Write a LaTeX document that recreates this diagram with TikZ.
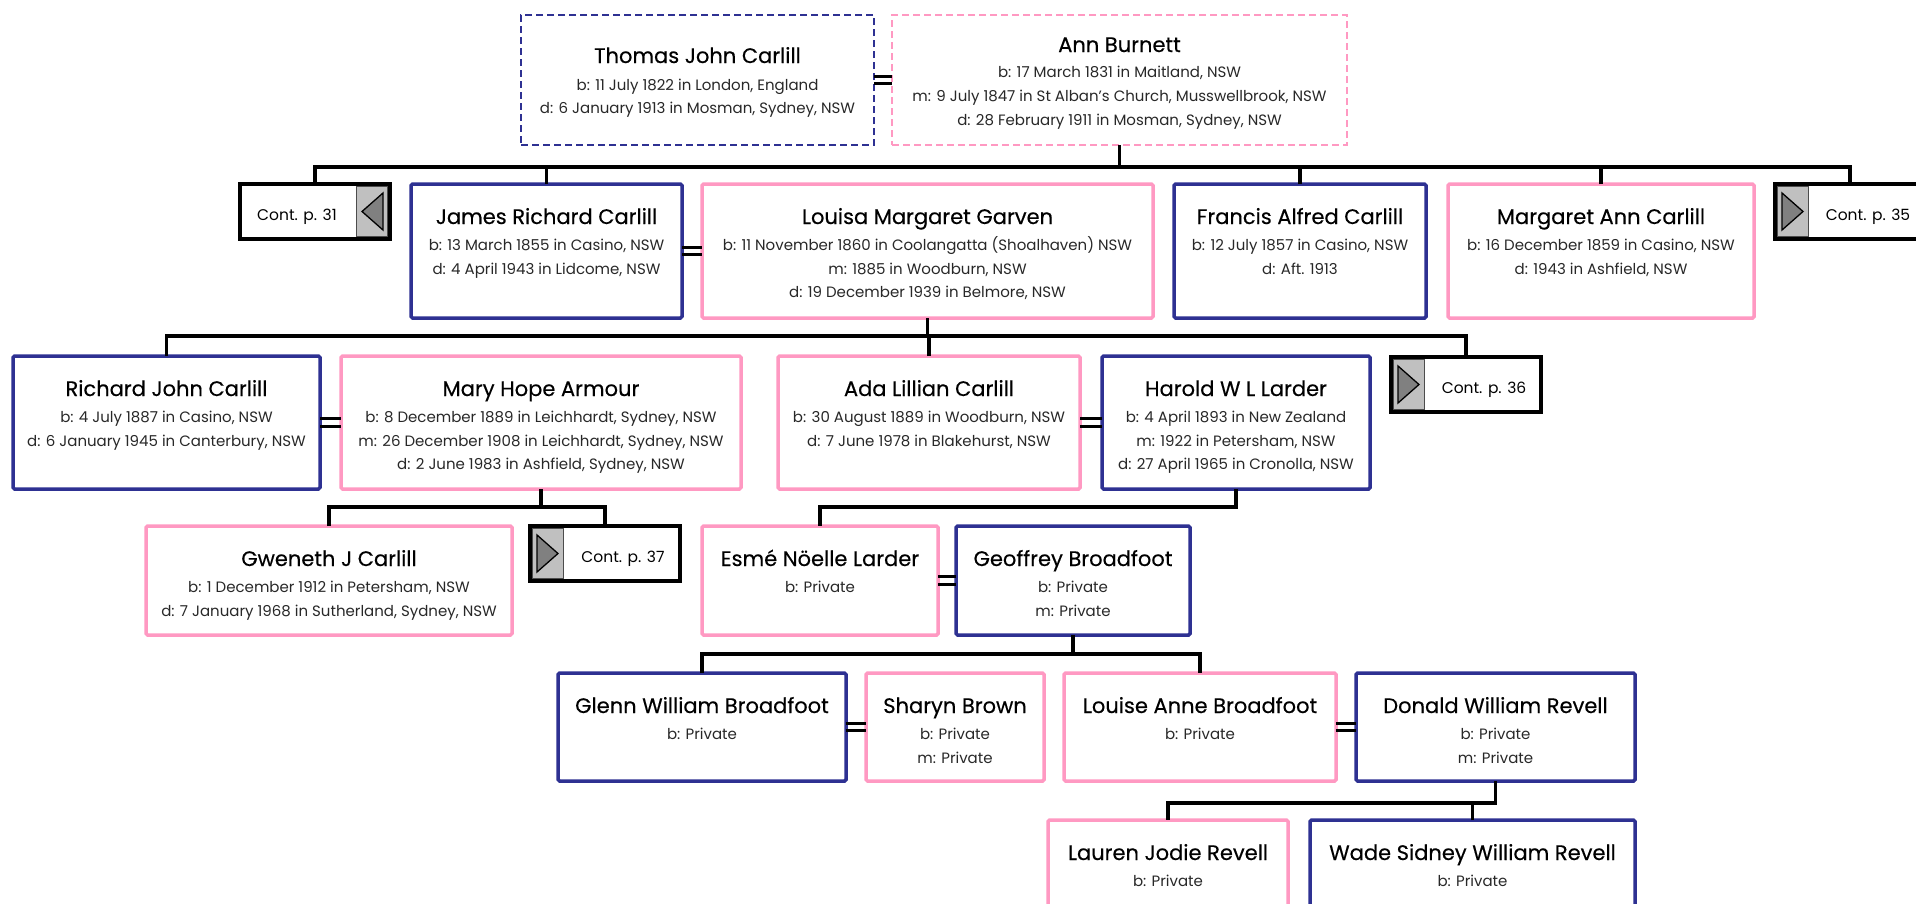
\documentclass[tikz,border=0pt]{standalone}
\usepackage{fontspec}
\setmainfont{Poppins}
\newfontfamily\ttlfont[FakeBold=0.35]{Poppins}
\usetikzlibrary{calc}
\definecolor{mblue}{RGB}{46,49,146}
\definecolor{fpink}{RGB}{255,153,194}
\definecolor{contgrey}{RGB}{192,192,192}
\definecolor{trigrey}{RGB}{128,128,128}
\definecolor{dtext}{RGB}{40,40,40}
\newcommand\ptitle[3]{\node[ttlstyle] (#1-t) at ($(#1.north)+(0,#2)$) {#3};}
\newcommand\pline[4]{\node[dtlstyle] (#1-#2) at ($(#1.north)+(0,#3)$) {#4};}
\newcommand\pbox[6]{\node[#2, minimum width=#5-#3, minimum height=#6-#4, anchor=north west] (#1) at (#3,#4) {};}
% cont box, arrow to the right (grey part on the left)
\newcommand\contR[4]{%
  \node[contbox, anchor=north west] (#1) at (#2,#3) {};
  \node[greypart, anchor=north west] (#1-g) at (#2+2.5,#3+2.5) {};
  \draw[tri] (#2+7,#3+9) -- (#2+28,#3+27.5) -- (#2+7,#3+46) -- cycle;
  \node[contstyle] (#1-l) at (#2+93,#3+36) {Cont. p. #4};}
% cont box, arrow to the left (grey part on the right)
\newcommand\contL[4]{%
  \node[contbox, anchor=north west] (#1) at (#2,#3) {};
  \node[greypart, anchor=north east] (#1-g) at (#2+150-2.5,#3+2.5) {};
  \draw[tri] (#2+143,#3+9) -- (#2+122,#3+27.5) -- (#2+143,#3+46) -- cycle;
  \node[contstyle] (#1-l) at (#2+57,#3+36) {Cont. p. #4};}
\begin{document}
\begin{tikzpicture}[x=1pt,y=-1pt,
  box/.style={line width=3.5pt, rounded corners=1.5pt, fill=white, inner sep=0pt, outer sep=0pt},
  male/.style={box, draw=mblue},
  female/.style={box, draw=fpink},
  dmale/.style={draw=mblue, line width=2pt, dash pattern=on 7pt off 4pt, fill=white, inner sep=0pt, outer sep=0pt},
  dfemale/.style={draw=fpink, line width=2pt, dash pattern=on 7pt off 4pt, fill=white, inner sep=0pt, outer sep=0pt},
  contbox/.style={draw=black, line width=4.5pt, fill=white, minimum width=150, minimum height=55, inner sep=0pt, outer sep=0pt},
  greypart/.style={fill=contgrey, draw=black!70, line width=0.8pt, minimum width=31, minimum height=50, inner sep=0pt, outer sep=0pt},
  tri/.style={fill=trigrey, draw=black, line width=1.3pt, line join=miter},
  ttlstyle/.style={anchor=base, inner sep=0pt, font=\ttlfont\fontsize{21}{21}\selectfont, text=black},
  dtlstyle/.style={anchor=base, inner sep=0pt, font=\fontsize{15}{15}\selectfont, text=dtext},
  contstyle/.style={anchor=base, inner sep=0pt, font=\fontsize{15.5}{15.5}\selectfont, text=black},
  conn/.style={draw=black, line width=3.5pt, line join=miter},
  marr/.style={draw=black, line width=3pt}
]
\clip (0,0) rectangle (1916,903);
\fill[white] (0,0) rectangle (1916,903);

% generation 0
\pbox{thomas}{dmale}{521}{15}{874}{145}
\pbox{ann}{dfemale}{892}{15}{1347}{145}
\ptitle{thomas}{48}{Thomas John Carlill}
\pline{thomas}{a}{75}{b: 11 July 1822 in London, England}
\pline{thomas}{b}{98}{d: 6 January 1913 in Mosman, Sydney, NSW}
\ptitle{ann}{37}{Ann Burnett}
\pline{ann}{a}{62}{b: 17 March 1831 in Maitland, NSW}
\pline{ann}{b}{86}{m: 9 July 1847 in St Alban's Church, Musswellbrook, NSW}
\pline{ann}{c}{110}{d: 28 February 1911 in Mosman, Sydney, NSW}

% generation 1
\contL{cont31}{240}{184}{31}
\pbox{james}{male}{411}{184}{682}{318}
\pbox{louisa}{female}{702}{184}{1153}{318}
\pbox{francis}{male}{1174}{184}{1426}{318}
\pbox{margann}{female}{1448}{184}{1754}{318}
\contR{cont35}{1775}{184}{35}
\ptitle{james}{40}{James Richard Carlill}
\pline{james}{a}{66.5}{b: 13 March 1855 in Casino, NSW}
\pline{james}{b}{90}{d: 4 April 1943 in Lidcome, NSW}
\ptitle{louisa}{40}{Louisa Margaret Garven}
\pline{louisa}{a}{66.5}{b: 11 November 1860 in Coolangatta (Shoalhaven) NSW}
\pline{louisa}{b}{90}{m: 1885 in Woodburn, NSW}
\pline{louisa}{c}{113.5}{d: 19 December 1939 in Belmore, NSW}
\ptitle{francis}{40}{Francis Alfred Carlill}
\pline{francis}{a}{66.5}{b: 12 July 1857 in Casino, NSW}
\pline{francis}{b}{90}{d: Aft. 1913}
\ptitle{margann}{40}{Margaret Ann Carlill}
\pline{margann}{a}{66.5}{b: 16 December 1859 in Casino, NSW}
\pline{margann}{b}{90}{d: 1943 in Ashfield, NSW}

% generation 2
\pbox{richard}{male}{13}{356}{320}{489}
\pbox{mary}{female}{341}{356}{741}{489}
\pbox{ada}{female}{778}{356}{1080}{489}
\pbox{harold}{male}{1102}{356}{1370}{489}
\contR{cont36}{1391}{357}{36}
\ptitle{richard}{40}{Richard John Carlill}
\pline{richard}{a}{66.5}{b: 4 July 1887 in Casino, NSW}
\pline{richard}{b}{90}{d: 6 January 1945 in Canterbury, NSW}
\ptitle{mary}{40}{Mary Hope Armour}
\pline{mary}{a}{66.5}{b: 8 December 1889 in Leichhardt, Sydney, NSW}
\pline{mary}{b}{90}{m: 26 December 1908 in Leichhardt, Sydney, NSW}
\pline{mary}{c}{113.5}{d: 2 June 1983 in Ashfield, Sydney, NSW}
\ptitle{ada}{40}{Ada Lillian Carlill}
\pline{ada}{a}{66.5}{b: 30 August 1889 in Woodburn, NSW}
\pline{ada}{b}{90}{d: 7 June 1978 in Blakehurst, NSW}
\ptitle{harold}{40}{Harold W L Larder}
\pline{harold}{a}{66.5}{b: 4 April 1893 in New Zealand}
\pline{harold}{b}{90}{m: 1922 in Petersham, NSW}
\pline{harold}{c}{113.5}{d: 27 April 1965 in Cronolla, NSW}

% generation 3
\pbox{gweneth}{female}{146}{526}{512}{635}
\contR{cont37}{530}{526}{37}
\pbox{esme}{female}{702}{526}{938}{635}
\pbox{geoffrey}{male}{956}{526}{1190}{635}
\ptitle{gweneth}{40}{Gweneth J Carlill}
\pline{gweneth}{a}{66.5}{b: 1 December 1912 in Petersham, NSW}
\pline{gweneth}{b}{90}{d: 7 January 1968 in Sutherland, Sydney, NSW}
\ptitle{esme}{40}{Esmé Nöelle Larder}
\pline{esme}{a}{66.5}{b: Private}
\ptitle{geoffrey}{40}{Geoffrey Broadfoot}
\pline{geoffrey}{a}{66.5}{b: Private}
\pline{geoffrey}{b}{90}{m: Private}

% generation 4
\pbox{glenn}{male}{558}{673}{846}{781}
\pbox{sharyn}{female}{866}{673}{1044}{781}
\pbox{louise}{female}{1064}{673}{1336}{781}
\pbox{donald}{male}{1356}{673}{1635}{781}
\ptitle{glenn}{40}{Glenn William Broadfoot}
\pline{glenn}{a}{66.5}{b: Private}
\ptitle{sharyn}{40}{Sharyn Brown}
\pline{sharyn}{a}{66.5}{b: Private}
\pline{sharyn}{b}{90}{m: Private}
\ptitle{louise}{40}{Louise Anne Broadfoot}
\pline{louise}{a}{66.5}{b: Private}
\ptitle{donald}{40}{Donald William Revell}
\pline{donald}{a}{66.5}{b: Private}
\pline{donald}{b}{90}{m: Private}

% generation 5
\pbox{lauren}{female}{1048}{820}{1288}{935}
\pbox{wade}{male}{1310}{820}{1635}{935}
\ptitle{lauren}{40}{Lauren Jodie Revell}
\pline{lauren}{a}{66.5}{b: Private}
\ptitle{wade}{40}{Wade Sidney William Revell}
\pline{wade}{a}{66.5}{b: Private}

% marriages
\foreach \a/\b in {thomas/ann, james/louisa, richard/mary, ada/harold, esme/geoffrey, glenn/sharyn, louise/donald}{
  \draw[marr] ($(\a.east)+(0,-3.6)$) -- ($(\b.west)+(0,-3.6)$);
  \draw[marr] ($(\a.east)+(0,3.6)$) -- ($(\b.west)+(0,3.6)$);
}

% family of Thomas & Ann
\draw[conn] (ann.south) -- (ann.south |- 0,167);
\draw[conn] (cont31.north) -- (cont31.north |- 0,167) -- (cont35.north |- 0,167) -- (cont35.north);
\foreach \c in {james, francis, margann}{\draw[conn] (\c.north) -- (\c.north |- 0,167);}

% family of James & Louisa
\draw[conn] (louisa.south) -- (louisa.south |- 0,336);
\draw[conn] (richard.north) -- (richard.north |- 0,336) -- (cont36.north |- 0,336) -- (cont36.north);
\draw[conn] (ada.north) -- (ada.north |- 0,336);

% family of Richard & Mary
\draw[conn] (mary.south) -- (mary.south |- 0,507);
\draw[conn] (gweneth.north) -- (gweneth.north |- 0,507) -- (cont37.north |- 0,507) -- (cont37.north);

% family of Ada & Harold
\draw[conn] (harold.south) -- (harold.south |- 0,507) -| (esme.north);

% family of Esme & Geoffrey
\draw[conn] (geoffrey.south) -- (geoffrey.south |- 0,654);
\draw[conn] (glenn.north) -- (glenn.north |- 0,654) -- (louise.north |- 0,654) -- (louise.north);

% family of Louise & Donald
\draw[conn] (donald.south) -- (donald.south |- 0,803) -| (lauren.north);
\draw[conn] (wade.north) -- (wade.north |- 0,803);
\end{tikzpicture}
\end{document}
